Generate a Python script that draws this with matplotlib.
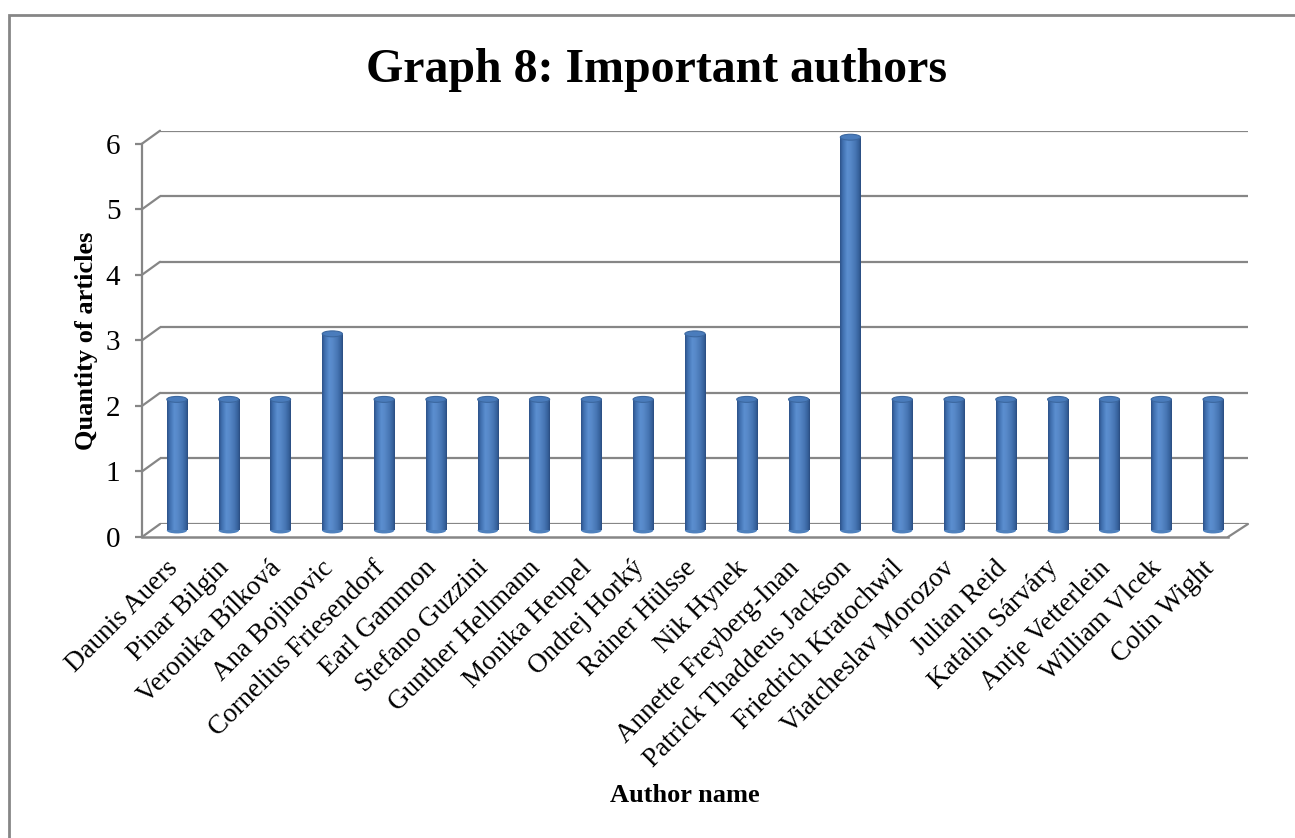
import numpy as np
import matplotlib.pyplot as plt
from matplotlib.colors import LinearSegmentedColormap
from matplotlib.patches import Ellipse, Rectangle
from matplotlib.transforms import ScaledTranslation
from matplotlib.lines import TICKLEFT

authors = ["Daunis Auers", "Pinar Bilgin", "Veronika Bílková", "Ana Bojinovic",
           "Cornelius Friesendorf", "Earl Gammon", "Stefano Guzzini",
           "Gunther Hellmann", "Monika Heupel", "Ondrej Horký", "Rainer Hülsse",
           "Nik Hynek", "Annette Freyberg-Inan", "Patrick Thaddeus Jackson",
           "Friedrich Kratochwil", "Viatcheslav Morozov", "Julian Reid",
           "Katalin Sárváry", "Antje Vetterlein", "William Vlcek", "Colin Wight"]
articles = [2, 2, 2, 3, 2, 2, 2, 2, 2, 2, 3, 2, 2, 6, 2, 2, 2, 2, 2, 2, 2]
y_ticks = [0, 1, 2, 3, 4, 5, 6]

plt.rcParams['font.family'] = ['Liberation Serif', 'DejaVu Serif']
grid_col = '#868686'

W, H = 1295, 838
fig = plt.figure(figsize=(W / 100, H / 100), dpi=100)
ax = fig.add_axes([160 / W, 314 / H, 1088 / W, 393.3 / H])
ax.set_facecolor('none')
for s in ax.spines.values():
    s.set_visible(False)


def px(dx, dy):
    return ScaledTranslation(dx / 100, dy / 100, fig.dpi_scale_trans)


mid = ax.transData + px(-9, -6.5)
front = ax.transData + px(-18, -13)

x0, x1 = -0.5, len(authors) - 0.5

# back wall gridlines + side wall diagonals
ax.hlines(y_ticks, x0, x1, color=grid_col, lw=1.6, zorder=1)
for v in y_ticks:
    ax.annotate('', xy=(x0, v), xytext=(-18, -13), textcoords='offset pixels',
                arrowprops=dict(arrowstyle='-', color=grid_col, lw=1.6,
                                shrinkA=0, shrinkB=0))
ax.annotate('', xy=(x1, 0), xytext=(-20, -13), textcoords='offset pixels',
            arrowprops=dict(arrowstyle='-', color=grid_col, lw=1.6,
                            shrinkA=0, shrinkB=0))

# front axis and floor edge
ax.plot([x0, x0], [0, 6], color=grid_col, lw=1.6, transform=front, clip_on=False)
ax.plot([x0, x1 - 0.04], [0, 0], color=grid_col, lw=1.8, transform=front,
        clip_on=False, zorder=2)
ax.plot([x0] * len(y_ticks), y_ticks, ls='none', marker=TICKLEFT, ms=5,
        mec=grid_col, mew=1.6, transform=front, clip_on=False)

# cylinder bars
cyl = LinearSegmentedColormap.from_list('cyl', [
    (0.0, '#2d5289'), (0.12, '#3f6ead'), (0.35, '#5b8ed0'), (0.5, '#5889c9'),
    (0.75, '#4675b3'), (0.92, '#355f99'), (1.0, '#2a4d80')])
grad = np.linspace(0, 1, 64).reshape(1, -1)
bw = 0.39
eh = 0.09
x = np.arange(len(authors))
bars = ax.bar(x, articles, width=bw, color='#4f81bd', lw=0, transform=mid,
              zorder=3, clip_on=False)
for xi, v, bar in zip(x, articles, bars):
    im = ax.imshow(grad, cmap=cyl, aspect='auto', transform=mid, zorder=3.5,
                   extent=(xi - bw / 2, xi + bw / 2, 0, v))
    im.set_clip_path(bar)
    bot = Ellipse((xi, 0), bw, eh, transform=mid, lw=0, fc='#4f81bd',
                  zorder=2.9, clip_on=False)
    ax.add_patch(bot)
    im2 = ax.imshow(grad, cmap=cyl, aspect='auto', transform=mid, zorder=3.4,
                    extent=(xi - bw / 2, xi + bw / 2, -eh, eh))
    im2.set_clip_path(bot)
    top = Ellipse((xi, v), bw, eh, transform=mid, fc='#4a7cbc', ec='#3b679f',
                  lw=0.8, zorder=4)
    ax.add_patch(top)

ax.set_xlim(x0, x1)
ax.set_ylim(0, 6)

# tick labels
ax.set_yticks(y_ticks)
ax.tick_params(axis='y', length=0, pad=15.5, labelsize=21)
for lbl in ax.get_yticklabels():
    lbl.set_transform(lbl.get_transform() + px(-18, -13))

ax.set_xticks(x)
ax.set_xticklabels(authors, rotation=45, ha='right', rotation_mode='anchor')
ax.tick_params(axis='x', length=0, pad=20, labelsize=19.5)
for lbl in ax.get_xticklabels():
    lbl.set_transform(lbl.get_transform() + px(-21, -4))

fig.text(656 / W, 1 - 70 / H, 'Graph 8: Important authors', ha='center',
         va='center', fontsize=34.5, weight='bold')
fig.text(86 / W, 1 - 341 / H, 'Quantity of articles', ha='center', va='center',
         rotation=90, fontsize=19, weight='bold')
fig.text(685 / W, 1 - 795 / H, 'Author name', ha='center', va='center',
         fontsize=19, weight='bold')

# chart area border
fig.add_artist(Rectangle((8.5 / W, -0.1), 1.2, 1.1 - 15 / H,
                         transform=fig.transFigure, fill=False,
                         ec=grid_col, lw=2))

fig.savefig('out.png', dpi=100)
